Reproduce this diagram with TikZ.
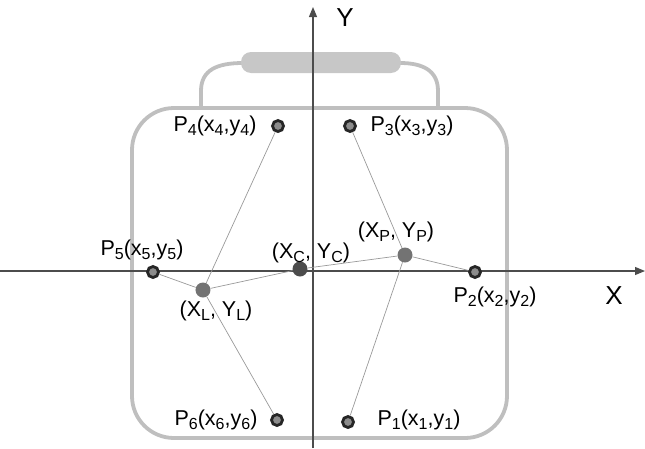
\documentclass[tikz,border=0pt]{standalone}
\usepackage{fontspec}
\setmainfont{Liberation Sans}
\usetikzlibrary{arrows.meta}
\newcommand\lo[1]{\raisebox{-0.35ex}{\fontsize{16}{16}\selectfont#1}}

\begin{document}
\begin{tikzpicture}[x=1pt,y=1pt,font=\fontsize{21.5}{21.5}\selectfont,
  pdot/.style={circle,draw=black!85,fill=black!45,line width=2.8pt,inner sep=0pt,minimum size=11pt},
  cdot/.style={circle,fill=black!55,inner sep=0pt,minimum size=15pt},
  link/.style={black!40,line width=0.7pt},
  frame/.style={black!25,line width=3.8pt}]
  \useasboundingbox (-313,-177) rectangle (332,271);
  % bottle body and handle
  \draw[frame,rounded corners=42pt] (-181,-167) rectangle (194,163);
  \draw[frame] (-112,163) -- (-112,180) .. controls (-112,201) and (-96,208) .. (-70,208);
  \draw[frame] (125,163) -- (125,180) .. controls (125,201) and (109,208) .. (87,208);
  \fill[black!22,rounded corners=10pt] (-72,198) rectangle (88,219);
  % axes
  \draw[black!70,line width=1.1pt,-{Triangle[length=10pt,width=8pt]}] (-313,0) -- (332,0);
  \draw[black!70,line width=1.1pt,-{Triangle[length=10pt,width=8pt]}] (0,-177) -- (0,264);
  \node[font=\fontsize{26}{26}\selectfont] (ylab) at (32,253) {Y};
  \node[font=\fontsize{26}{26}\selectfont] (xlab) at (301,-25) {X};
  % points
  \foreach \n/\x/\y in {p1/35/-151, p2/162/-1, p3/37/145, p4/-35/145, p5/-160/-1, p6/-36/-149}
    \node[pdot] (\n) at (\x,\y) {};
  \node[cdot] (l) at (-110,-19) {};
  \node[cdot,fill=black!70] (c) at (-13,2) {};
  \node[cdot] (p) at (92,16) {};
  \foreach \a/\b in {p4/l, l/p6, p5/l, l/c, c/p, p/p3, p/p1, p/p2}
    \draw[link] (\a) -- (\b);
  % labels
  \node (t1) at (106,-149) {P\lo{1}(x\lo{1},y\lo{1})};
  \node (t2) at (182,-26) {P\lo{2}(x\lo{2},y\lo{2})};
  \node (t3) at (99,145) {P\lo{3}(x\lo{3},y\lo{3})};
  \node (t4) at (-98,145) {P\lo{4}(x\lo{4},y\lo{4})};
  \node (t5) at (-171,21) {P\lo{5}(x\lo{5},y\lo{5})};
  \node (t6) at (-97,-149) {P\lo{6}(x\lo{6},y\lo{6})};
  \node (tl) at (-97,-40) {(X\lo{L}, Y\lo{L})};
  \node (tc) at (-2,18) {(X\lo{C}, Y\lo{C})};
  \node (tp) at (83,39) {(X\lo{P}, Y\lo{P})};
\end{tikzpicture}
\end{document}
